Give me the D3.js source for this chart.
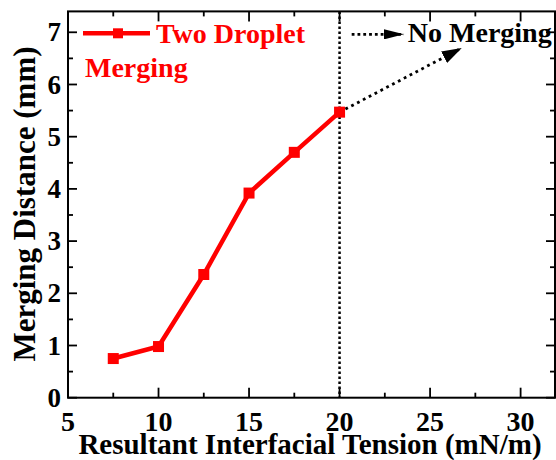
<!DOCTYPE html>
<html>
<head>
<meta charset="utf-8">
<script src="https://cdn.jsdelivr.net/npm/d3@7"></script>
</head>
<body style="margin:0;padding:0;background:#fff">
<svg id="chart" width="556" height="460" style="display:block"></svg>
<script>
// ---- data ----
const tension = [7.5, 10, 12.5, 15, 17.5, 20];
const distance = [0.75, 0.98, 2.36, 3.92, 4.70, 5.47];
const xTicks = [5, 10, 15, 20, 25, 30];
const yTicks = [0, 1, 2, 3, 4, 5, 6, 7];
const seriesName = ["Two Droplet", "Merging"];
const noMergeLabel = "No Merging";
const thresholdX = 20;
const arrowEnd = [26.75, 6.70];
const smallArrow = [[20.67, 6.96], [23.56, 6.96]];
const noMergePos = [23.77, 6.81];
const xTitle = "Resultant Interfacial Tension (mN/m)";
const yTitle = "Merging Distance (mm)";

const svg = d3.select("#chart");
const L = 68, R = 555, T = 11.4, B = 397.7;
const x = d3.scaleLinear().domain([5, 31.9]).range([L, R]);
const y = d3.scaleLinear().domain([0, 7.4]).range([B, T]);

function font(sel, size) {
  return sel.style("font-family", "'Liberation Serif', 'Times New Roman', serif")
    .style("font-weight", "700").style("font-size", size + "px");
}

const defs = svg.append("defs");
function marker(id, w, h) {
  defs.append("marker").attr("id", id)
    .attr("viewBox", `0 0 ${w} ${h}`)
    .attr("refX", w).attr("refY", h / 2)
    .attr("markerWidth", w).attr("markerHeight", h)
    .attr("markerUnits", "userSpaceOnUse")
    .attr("orient", "auto")
    .append("path").attr("d", `M0,0 L${w},${h/2} L0,${h} Z`).attr("fill", "#000");
}
marker("bigHead", 20, 13);
marker("smallHead", 20, 10);

// frame
svg.append("rect").attr("x", L).attr("y", T).attr("width", R - L).attr("height", B - T)
  .attr("fill", "none").attr("stroke", "#000").attr("stroke-width", 2);

// ticks (inward, all four sides)
const xMinor = d3.range(7.5, 31.9, 5);
const yMinor = d3.range(0.5, 7.4, 1);
const tk = svg.append("g").attr("stroke", "#000").attr("stroke-width", 1.8);
xTicks.forEach(v => {
  tk.append("line").attr("x1", x(v)).attr("x2", x(v)).attr("y1", B).attr("y2", B - 10);
  tk.append("line").attr("x1", x(v)).attr("x2", x(v)).attr("y1", T).attr("y2", T + 10);
});
xMinor.forEach(v => {
  tk.append("line").attr("x1", x(v)).attr("x2", x(v)).attr("y1", B).attr("y2", B - 5);
  tk.append("line").attr("x1", x(v)).attr("x2", x(v)).attr("y1", T).attr("y2", T + 5);
});
yTicks.forEach(v => {
  tk.append("line").attr("y1", y(v)).attr("y2", y(v)).attr("x1", L).attr("x2", L + 9);
  tk.append("line").attr("y1", y(v)).attr("y2", y(v)).attr("x1", R).attr("x2", R - 9);
});
yMinor.forEach(v => {
  tk.append("line").attr("y1", y(v)).attr("y2", y(v)).attr("x1", L).attr("x2", L + 5);
  tk.append("line").attr("y1", y(v)).attr("y2", y(v)).attr("x1", R).attr("x2", R - 5);
});

// tick labels
font(svg.append("g").selectAll("text").data(xTicks).join("text"), 28)
  .attr("x", d => x(d)).attr("y", 431).attr("text-anchor", "middle").text(d => d);
font(svg.append("g").selectAll("text").data(yTicks).join("text"), 27)
  .attr("x", 61).attr("y", d => y(d)).attr("dy", "0.34em").attr("text-anchor", "end").text(d => d);

// axis titles
font(svg.append("text"), 29)
  .attr("x", 310).attr("y", 454).attr("text-anchor", "middle").text(xTitle);
font(svg.append("text"), 31)
  .attr("transform", `translate(35,204) rotate(-90)`).attr("text-anchor", "middle").text(yTitle);

// threshold dotted vertical
svg.append("line").attr("x1", x(thresholdX)).attr("x2", x(thresholdX))
  .attr("y1", T).attr("y2", B)
  .attr("stroke", "#000").attr("stroke-width", 2.5).attr("stroke-dasharray", "2.5,2.5");

// dotted arrow from last point
const last = tension.length - 1;
svg.append("line").attr("x1", x(tension[last])).attr("y1", y(distance[last]))
  .attr("x2", x(arrowEnd[0])).attr("y2", y(arrowEnd[1]))
  .attr("stroke", "#000").attr("stroke-width", 2.8).attr("stroke-dasharray", "2.8,3.8")
  .attr("marker-end", "url(#bigHead)");

// small arrow + label
svg.append("line").attr("x1", x(smallArrow[0][0])).attr("y1", y(smallArrow[0][1]))
  .attr("x2", x(smallArrow[1][0])).attr("y2", y(smallArrow[1][1]))
  .attr("stroke", "#000").attr("stroke-width", 2.8).attr("stroke-dasharray", "2.8,3")
  .attr("marker-end", "url(#smallHead)");
font(svg.append("text"), 28)
  .attr("x", x(noMergePos[0])).attr("y", y(noMergePos[1])).attr("fill", "#000").text(noMergeLabel);

// data line
const line = d3.line().x((d, i) => x(tension[i])).y(d => y(d));
svg.append("path").datum(distance).attr("d", line)
  .attr("fill", "none").attr("stroke", "#ff0000").attr("stroke-width", 4.5)
  .attr("stroke-linejoin", "miter");
svg.append("g").selectAll("rect").data(distance).join("rect")
  .attr("x", (d, i) => x(tension[i]) - 5.5).attr("y", d => y(d) - 5.5)
  .attr("width", 11).attr("height", 11).attr("fill", "#ff0000");

// legend
const lg = svg.append("g");
lg.append("line").attr("x1", 83).attr("x2", 150).attr("y1", 33.3).attr("y2", 33.3)
  .attr("stroke", "#ff0000").attr("stroke-width", 4.5);
lg.append("rect").attr("x", 113).attr("y", 28.3).attr("width", 10).attr("height", 10).attr("fill", "#ff0000");
font(lg.append("text"), 28)
  .attr("x", 156).attr("y", 43.3).attr("fill", "#ff0000").text(seriesName[0]);
font(lg.append("text"), 28)
  .attr("x", 85).attr("y", 77).attr("fill", "#ff0000").text(seriesName[1]);
</script>
</body>
</html>
